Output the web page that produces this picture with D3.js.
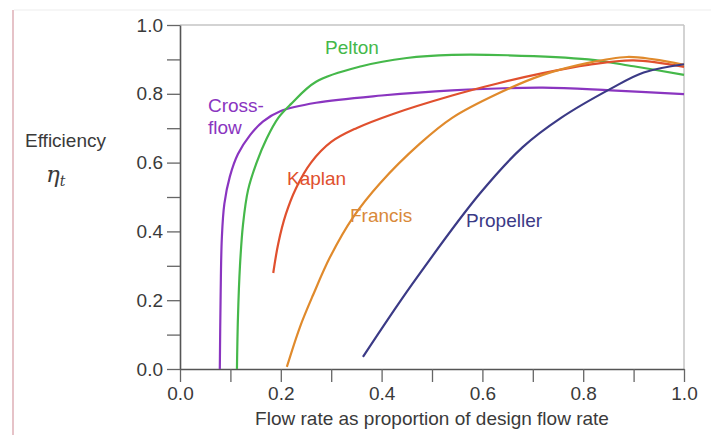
<!DOCTYPE html>
<html>
<head>
<meta charset="utf-8">
<script src="https://cdnjs.cloudflare.com/ajax/libs/d3/7.8.5/d3.min.js"></script>
<style>
  body { margin: 0; background: #fff; }
  text { font-family: "Liberation Sans", Arial, sans-serif; }
</style>
</head>
<body>
<script>
// values: flow proportion q and efficiency eta
var crossQ   = [0.079, 0.0805, 0.083, 0.088, 0.099, 0.115, 0.139, 0.165, 0.2, 0.27, 0.4, 0.54, 0.72, 0.855, 1.0];
var crossEta = [0.0, 0.2, 0.38, 0.48, 0.56, 0.625, 0.68, 0.72, 0.75, 0.774, 0.795, 0.81, 0.818, 0.81, 0.799];

var peltonQ   = [0.113, 0.115, 0.119, 0.125, 0.135, 0.152, 0.172, 0.195, 0.22, 0.27, 0.36, 0.45, 0.54, 0.65, 0.81, 0.9, 1.0];
var peltonEta = [0.0, 0.15, 0.3, 0.42, 0.52, 0.6, 0.67, 0.73, 0.77, 0.835, 0.88, 0.904, 0.913, 0.912, 0.9, 0.88, 0.855];

var kaplanQ   = [0.185, 0.195, 0.21, 0.23, 0.26, 0.3, 0.35, 0.42, 0.54, 0.63, 0.72, 0.81, 0.9, 1.0];
var kaplanEta = [0.279, 0.365, 0.45, 0.525, 0.6, 0.66, 0.7, 0.74, 0.795, 0.83, 0.86, 0.884, 0.897, 0.878];

var francisQ   = [0.212, 0.238, 0.264, 0.298, 0.343, 0.397, 0.476, 0.54, 0.63, 0.72, 0.81, 0.887, 0.94, 1.0];
var francisEta = [0.006, 0.122, 0.215, 0.326, 0.44, 0.54, 0.655, 0.73, 0.8, 0.855, 0.89, 0.907, 0.9, 0.884];

var propQ   = [0.363, 0.46, 0.595, 0.68, 0.756, 0.855, 0.92, 1.0];
var propEta = [0.035, 0.245, 0.51, 0.645, 0.73, 0.815, 0.862, 0.886];

var tickValues = [0, 0.1, 0.2, 0.3, 0.4, 0.5, 0.6, 0.7, 0.8, 0.9, 1.0];

var series = [
  { name: "Cross-flow", q: crossQ, eta: crossEta, color: "#8a35c0" },
  { name: "Pelton", q: peltonQ, eta: peltonEta, color: "#45b84a" },
  { name: "Kaplan", q: kaplanQ, eta: kaplanEta, color: "#e0502e" },
  { name: "Francis", q: francisQ, eta: francisEta, color: "#e08a2c" },
  { name: "Propeller", q: propQ, eta: propEta, color: "#3b3a86" }
];

var width = 711, height = 435;
var svg = d3.select("body").append("svg")
    .attr("width", width)
    .attr("height", height);

// faint frame of the original screenshot
svg.append("line").attr("x1", 13).attr("x2", 13).attr("y1", 10).attr("y2", height)
    .attr("stroke", "#e6c3c8").attr("stroke-width", 2);
svg.append("line").attr("x1", 14).attr("x2", width).attr("y1", 10).attr("y2", 10)
    .attr("stroke", "#ededed").attr("stroke-width", 1);

var x = d3.scaleLinear().domain([0, 1]).range([180, 684]);
var y = d3.scaleLinear().domain([0, 1]).range([369, 25]);

// light box on top and right
svg.append("line").attr("x1", x(0)).attr("x2", x(1)).attr("y1", y(1)).attr("y2", y(1))
    .attr("stroke", "#c4c4c4").attr("stroke-width", 1.5);
svg.append("line").attr("x1", x(1)).attr("x2", x(1)).attr("y1", y(1)).attr("y2", y(0))
    .attr("stroke", "#c4c4c4").attr("stroke-width", 1.5);

function fmt(d) {
  return Math.round(d * 10) % 2 == 0 ? d3.format(".1f")(d) : "";
}

var xAxis = svg.append("g")
    .attr("transform", "translate(0," + y(0) + ")")
    .call(d3.axisBottom(x).tickValues(tickValues).tickFormat(fmt).tickSize(13).tickSizeOuter(0).tickPadding(5));
var yAxis = svg.append("g")
    .attr("transform", "translate(" + x(0) + ",0)")
    .call(d3.axisLeft(y).tickValues(tickValues).tickFormat(fmt).tickSize(13).tickSizeOuter(0).tickPadding(4));

[xAxis, yAxis].forEach(function(g) {
  g.select(".domain").attr("stroke", "#555").attr("stroke-width", 1.6);
  g.selectAll(".tick line").attr("stroke", "#666").attr("stroke-width", 1.3);
  g.selectAll(".tick text").attr("fill", "#3a3a3a").style("font-size", "19px")
    .style("font-family", "Liberation Sans, Arial, sans-serif");
});

var line = d3.line()
    .x(function(d) { return x(d[0]); })
    .y(function(d) { return y(d[1]); })
    .curve(d3.curveCatmullRom.alpha(0.5));

series.forEach(function(s) {
  var pts = s.q.map(function(q, i) { return [q, s.eta[i]]; });
  svg.append("path")
      .datum(pts)
      .attr("d", line)
      .attr("fill", "none")
      .attr("stroke", s.color)
      .attr("stroke-width", 2.2);
});

// curve labels
var labels = [
  { t: "Pelton", x: 325, y: 54, c: "#45b84a" },
  { t: "Cross-", x: 208, y: 112, c: "#8a35c0" },
  { t: "flow", x: 208, y: 134, c: "#8a35c0" },
  { t: "Kaplan", x: 287, y: 185, c: "#e0502e" },
  { t: "Francis", x: 350, y: 222, c: "#d9893a" },
  { t: "Propeller", x: 466, y: 227, c: "#3b3a86" }
];
svg.selectAll(".lbl").data(labels).enter().append("text")
    .attr("class", "lbl")
    .attr("x", function(d) { return d.x; })
    .attr("y", function(d) { return d.y; })
    .attr("fill", function(d) { return d.c; })
    .style("font-size", "19px")
    .text(function(d) { return d.t; });

// axis titles
svg.append("text")
    .attr("x", (x(0) + x(1)) / 2).attr("y", 425)
    .attr("text-anchor", "middle")
    .attr("fill", "#3a3a3a")
    .style("font-size", "19px")
    .text("Flow rate as proportion of design flow rate");

svg.append("text")
    .attr("x", 25).attr("y", 147)
    .attr("fill", "#3a3a3a")
    .style("font-size", "19px")
    .text("Efficiency");

var eta = svg.append("text")
    .attr("x", 46).attr("y", 182)
    .attr("fill", "#3a3a3a")
    .style("font-family", "DejaVu Serif, serif")
    .style("font-style", "italic")
    .style("font-size", "23px")
    .text("η");
eta.append("tspan")
    .attr("dy", 4)
    .style("font-size", "14px")
    .text("t");
</script>
</body>
</html>
